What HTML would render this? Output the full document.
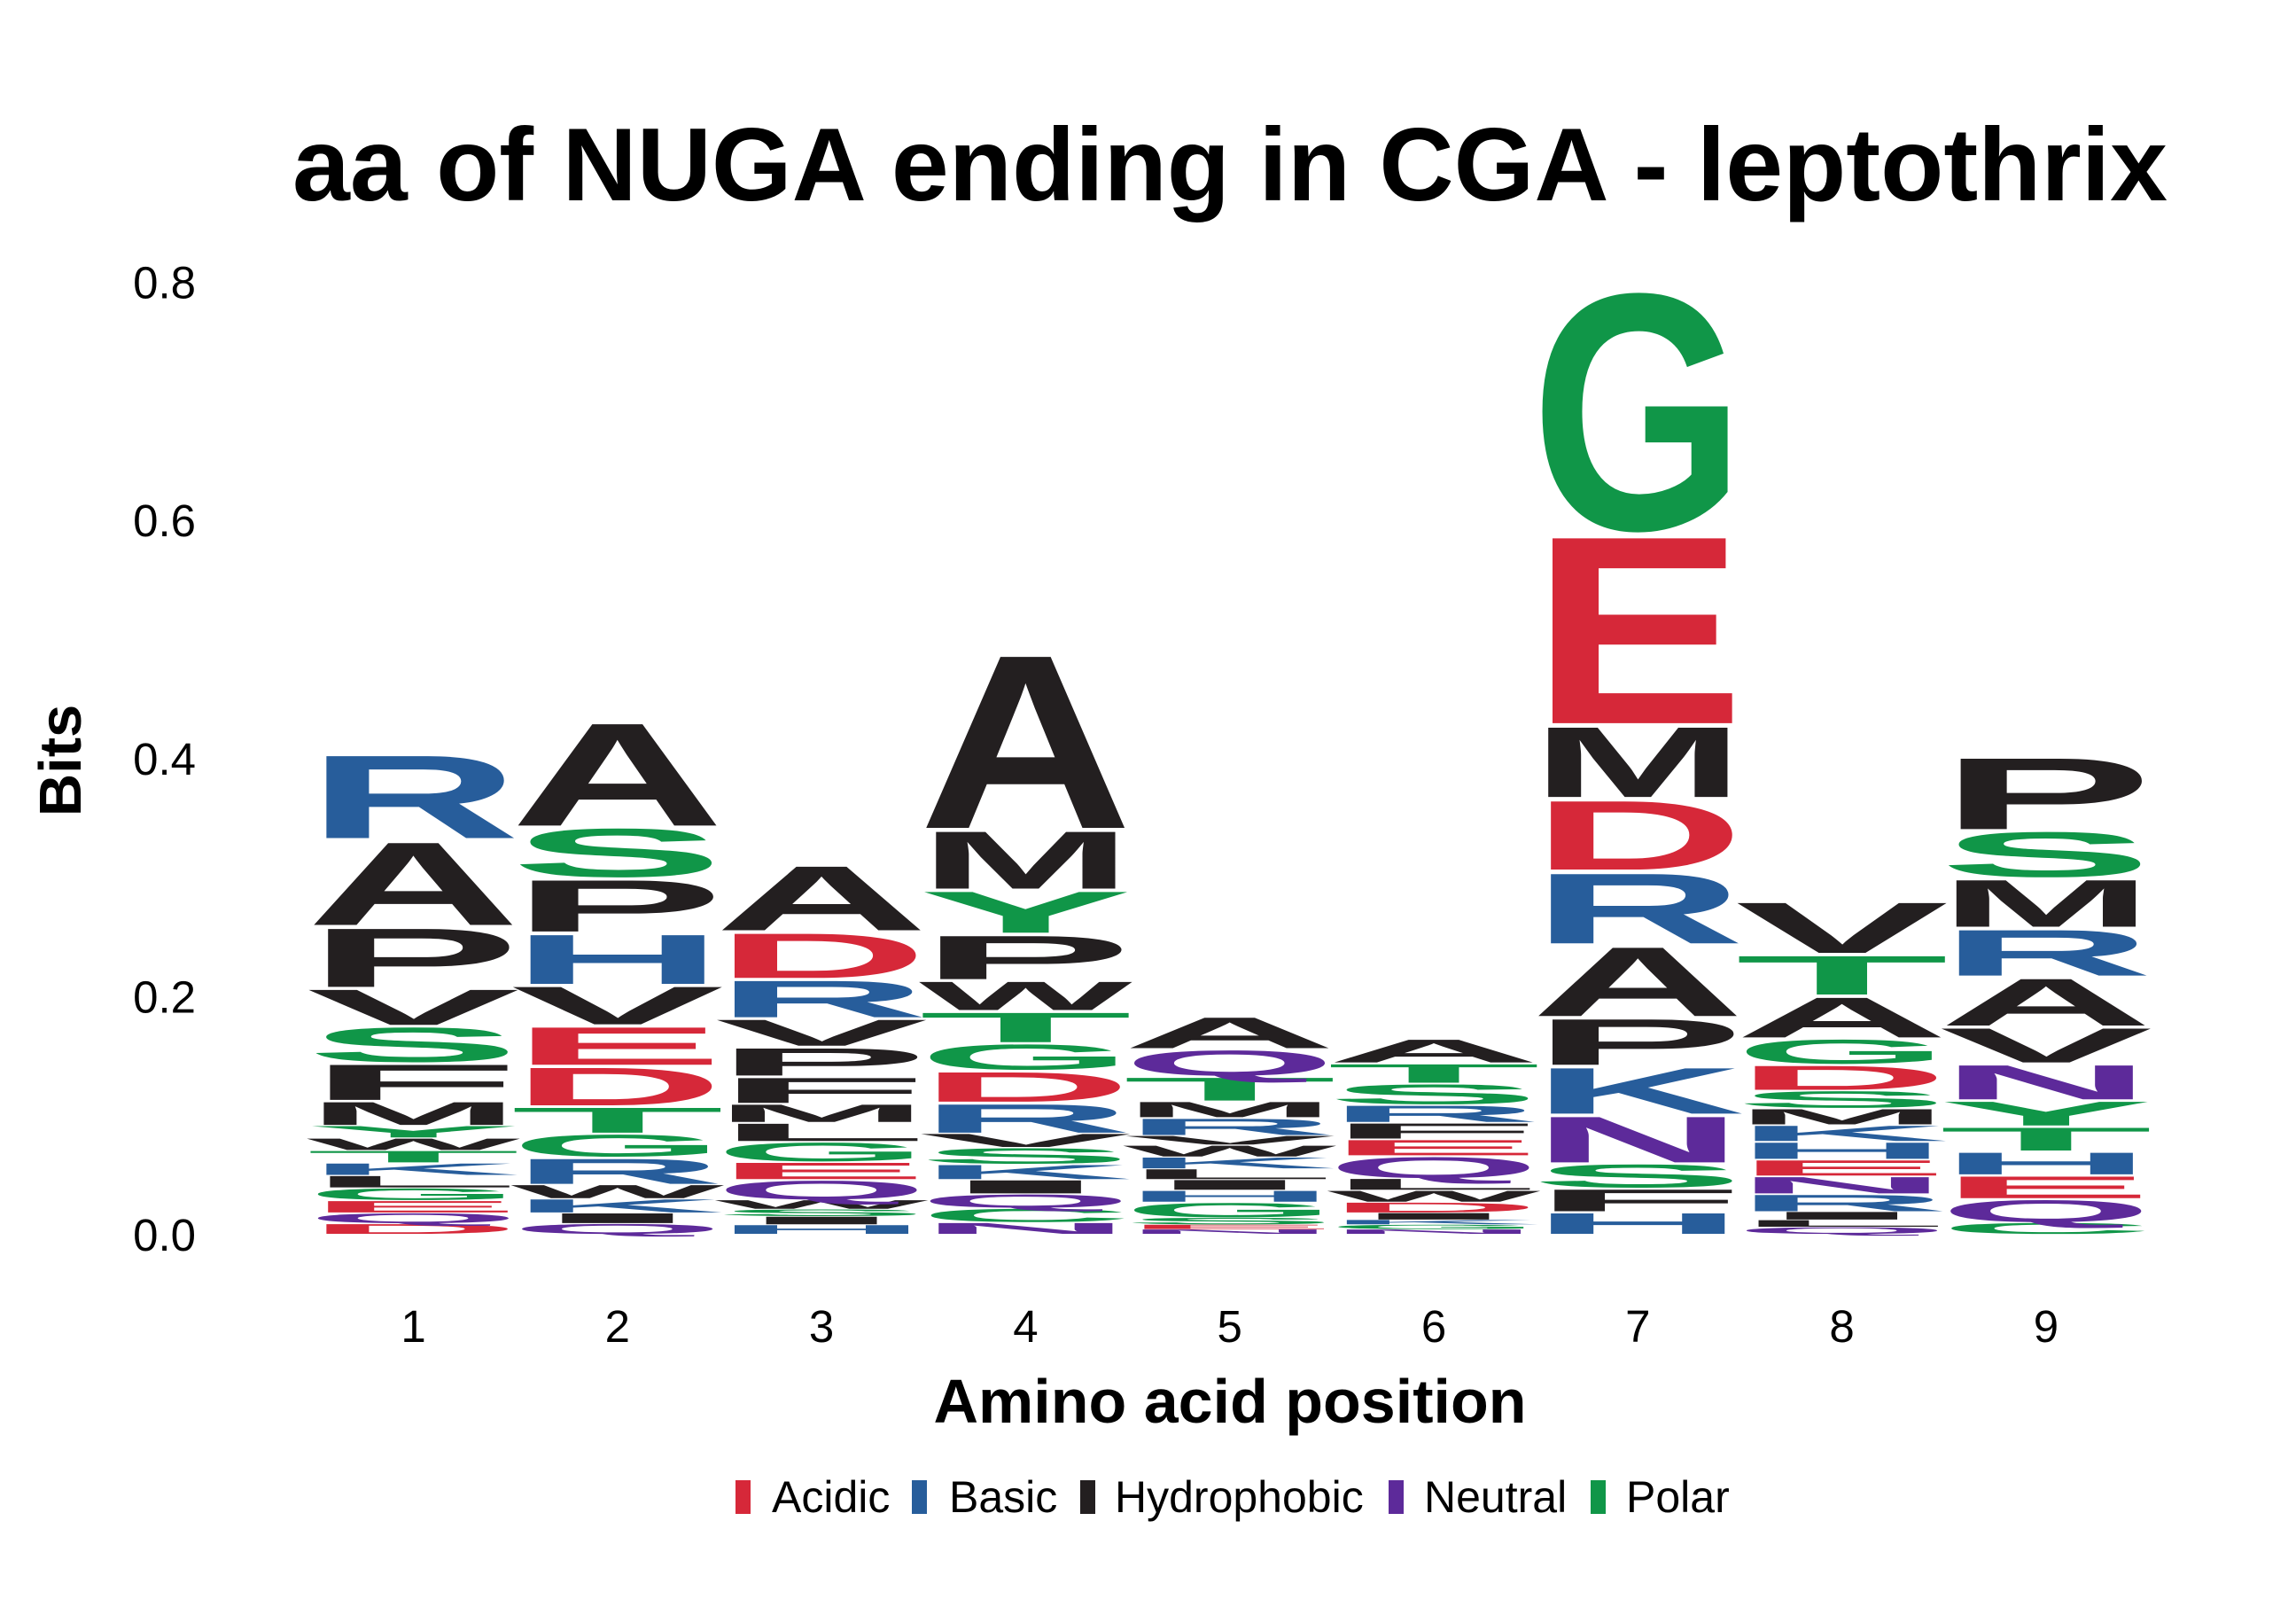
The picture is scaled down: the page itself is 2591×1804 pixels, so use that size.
<!DOCTYPE html>
<html><head><meta charset="utf-8"><style>
html,body{margin:0;padding:0;background:#fff}
svg{display:block}
text{font-family:"Liberation Sans",Arial,sans-serif}
</style></head><body>
<svg id="chart" width="2591" height="1804" viewBox="0 0 2591 1804" xmlns="http://www.w3.org/2000/svg">
<text x="1388" y="226" font-size="117" font-weight="bold" text-anchor="middle" textLength="2116" lengthAdjust="spacingAndGlyphs">aa of NUGA ending in CGA - leptothrix</text>
<text transform="translate(91,858) rotate(-90)" font-size="67" font-weight="bold" text-anchor="middle">Bits</text>
<text x="1397" y="1605" font-size="70" font-weight="bold" text-anchor="middle" textLength="669" lengthAdjust="spacingAndGlyphs" transform="translate(-9,0)">Amino acid position</text>
<g id="yticks"></g>
<g id="xticks"></g>
<g id="stacks"></g>
<g>
 <g><rect x="830" y="1670" width="17" height="38" fill="#d62839"/><text x="871" y="1706" font-size="50">Acidic</text></g>
 <g><rect x="1029" y="1670" width="17" height="38" fill="#275d9b"/><text x="1071" y="1706" font-size="50">Basic</text></g>
 <g><rect x="1219" y="1670" width="17" height="38" fill="#231f20"/><text x="1258" y="1706" font-size="50">Hydrophobic</text></g>
 <g><rect x="1567" y="1670" width="17" height="38" fill="#5d2a9a"/><text x="1607" y="1706" font-size="50">Neutral</text></g>
 <g><rect x="1795" y="1670" width="17" height="38" fill="#109648"/><text x="1835" y="1706" font-size="50">Polar</text></g>
</g>
</svg>
<script>
const positions = [1,2,3,4,5,6,7,8,9];
const yTickValues = [0.0,0.2,0.4,0.6,0.8];
const yTickLabels = ["0.0","0.2","0.4","0.6","0.8"];
// letters bottom-to-top with heights in bits
const pos1Letters = ["D","Q","E","G","L","K","T","W","Y","M","F","S","V","P","A","R"];
const pos1Bits    = [.009,.009,.0105,.0105,.0105,.0105,.0105,.0105,.0105,.021,.032,.031,.032,.052,.073,.073];
const pos2Letters = ["Q","I","K","W","R","G","T","D","E","V","H","P","S","A"];
const pos2Bits    = [.009,.009,.012,.012,.023,.020,.023,.034,.034,.034,.044,.046,.043,.090];
const pos3Letters = ["H","I","S","W","Q","E","G","L","M","F","P","V","R","D","A"];
const pos3Bits    = [.008,.007,.006,.008,.017,.015,.017,.016,.016,.023,.025,.024,.033,.040,.057];
const pos4Letters = ["N","C","Q","I","K","S","V","R","D","G","T","W","P","Y","M","A"];
const pos4Bits    = [.010,.012,.012,.012,.013,.014,.012,.026,.027,.023,.027,.026,.039,.037,.051,.151];
const pos5Letters = ["N","E","S","G","H","I","L","K","W","V","R","M","T","Q","A"];
const pos5Bits    = [.004,.004,.006,.013,.010,.009,.009,.010,.010,.008,.015,.014,.021,.023,.028];
const pos6Letters = ["N","G","K","I","D","W","L","Q","E","F","R","S","T","A"];
const pos6Bits    = [.004,.004,.004,.006,.009,.010,.010,.019,.014,.014,.015,.018,.017,.021];
const pos7Letters = ["H","F","S","N","K","P","A","R","D","M","E","G"];
const pos7Bits    = [.019,.020,.021,.041,.041,.041,.061,.062,.061,.062,.163,.205];
const pos8Letters = ["Q","L","I","R","N","E","H","K","M","S","D","G","A","T","V"];
const pos8Bits    = [.006,.006,.007,.015,.015,.014,.015,.014,.014,.015,.022,.022,.036,.035,.045];
const pos9Letters = ["C","Q","E","H","T","Y","N","V","A","R","M","S","P"];
const pos9Bits    = [.010,.020,.020,.020,.021,.022,.031,.031,.042,.041,.042,.040,.063];

const allLetters = [pos1Letters,pos2Letters,pos3Letters,pos4Letters,pos5Letters,pos6Letters,pos7Letters,pos8Letters,pos9Letters];
const allBits = [pos1Bits,pos2Bits,pos3Bits,pos4Bits,pos5Bits,pos6Bits,pos7Bits,pos8Bits,pos9Bits];

const NS="http://www.w3.org/2000/svg";
const y0=1392, pxPerBit=1343;
function yScale(v){return y0 - v*pxPerBit;}
const colW=219, firstLeft=357, step=230.3;
function xLeft(i){return firstLeft + i*step;}
function colorOf(l){
  if("DE".includes(l)) return "#d62839";
  if("KRH".includes(l)) return "#275d9b";
  if("QN".includes(l)) return "#5d2a9a";
  if("GSTYC".includes(l)) return "#109648";
  return "#231f20";
}
const yt=document.getElementById('yticks');
yTickValues.forEach((v,i)=>{
  const t=document.createElementNS(NS,'text');
  
  
  t.setAttribute('x',221);t.setAttribute('y',yScale(v)+19);
  t.setAttribute('font-size',51);t.setAttribute('text-anchor','end');
  t.textContent=yTickLabels[i];yt.appendChild(t);
});
const xt=document.getElementById('xticks');
positions.forEach((p,i)=>{
  const t=document.createElementNS(NS,'text');
  
  
  t.setAttribute('x',xLeft(i)+colW/2);t.setAttribute('y',1514);
  t.setAttribute('font-size',51);t.setAttribute('text-anchor','middle');
  t.textContent=String(p);xt.appendChild(t);
});
const st=document.getElementById('stacks');
allLetters.forEach((letters,i)=>{
  const g=document.createElementNS(NS,'g');
  
  
  let cum=0;
  letters.forEach((l,j)=>{
    const h=allBits[i][j];
    const yb=yScale(cum), yt2=yScale(cum+h);
    cum+=h;
    const hpx=(yb-yt2);
    const drawH=Math.max(hpx-Math.min(2,hpx*0.06),0.5);
    const t=document.createElementNS(NS,'text');
    
    
    t.setAttribute('x',0);t.setAttribute('y',0);
    t.setAttribute('font-size',100);t.setAttribute('font-weight','bold');
    const w=colW*1.1;
    t.setAttribute('textLength',w);
    t.setAttribute('lengthAdjust','spacingAndGlyphs');
    t.setAttribute('fill',colorOf(l));
    t.setAttribute('transform','translate('+(xLeft(i)-colW*0.05)+','+yb+') scale(1,'+(drawH/71.6)+')');
    t.textContent=l;
    g.appendChild(t);
  });
  st.appendChild(g);
});
</script>
</body></html>
